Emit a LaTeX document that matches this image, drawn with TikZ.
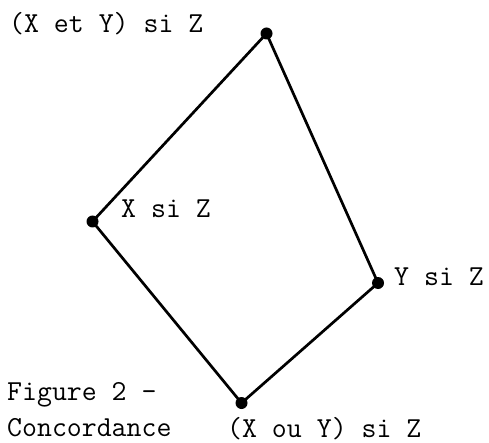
\documentclass[tikz,border=0pt]{standalone}
\usepackage{fontspec}
\begin{document}
\begin{tikzpicture}[x=1pt,y=1pt,
  dot/.style={circle,fill=black,inner sep=0pt,minimum size=12pt},
  lbl/.style={anchor=base west,inner sep=0pt,font=\fontsize{29}{34}\selectfont\ttfamily\addfontfeatures{FakeBold=0.6}},
  edge/.style={line width=2.7pt}]
\useasboundingbox (0,0) rectangle (489,442);
\node[dot] (t) at (266.5,408.5) {};
\node[dot] (l) at (92.5,220.5) {};
\node[dot] (r) at (378,159) {};
\node[dot] (b) at (241.5,39) {};
\draw[edge] (t.center) -- (l.center);
\draw[edge] (t.center) -- (r.center);
\draw[edge] (l.center) -- (b.center);
\draw[edge] (b.center) -- (r.center);
\node[lbl] (tl) at (9,409) {(X et Y) si Z};
\node[lbl] (ll) at (121,224) {X si Z};
\node[lbl] (rl) at (394,157) {Y si Z};
\node[lbl] (bl) at (227,5) {(X ou Y) si Z};
\node[lbl] (f1) at (7,42) {Figure 2 -};
\node[lbl] (f2) at (7,6) {Concordance};
\end{tikzpicture}
\end{document}
